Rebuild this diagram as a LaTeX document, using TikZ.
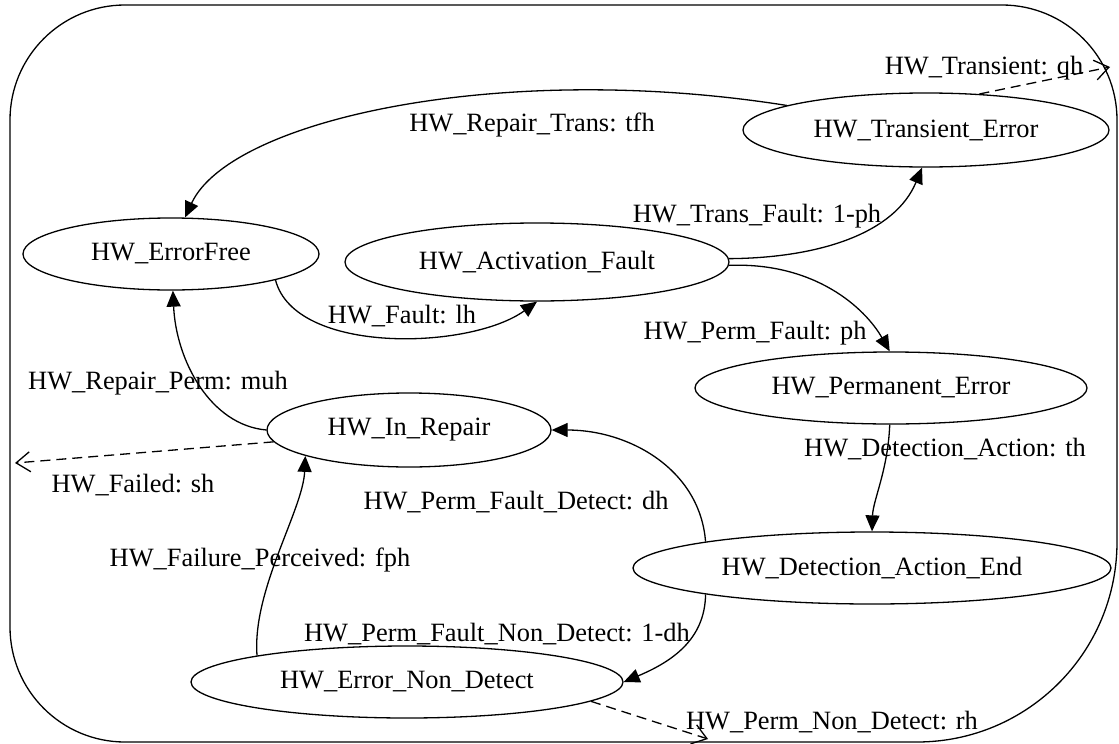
\documentclass[tikz,border=0pt]{standalone}
\usepackage{fontspec}
\setmainfont{Liberation Serif}
\usetikzlibrary{shapes.geometric,arrows.meta}
\newcommand\lblfont{\fontsize{26.4pt}{30pt}\selectfont}
\begin{document}
\begin{tikzpicture}[x=1pt,y=-1pt,line width=1.3pt,
  state/.style={draw,ellipse,inner sep=0pt,font=\lblfont},
  lbl/.style={font=\lblfont,inner sep=0pt,anchor=base},
  arr/.style={-{Triangle[length=16pt,width=14pt]}},
  openarr/.style={-{Straight Barb[length=14pt,width=20pt]},dash pattern=on 10pt off 6pt}]
\useasboundingbox (0,0) rectangle (1119,744);
\draw (10,120) .. controls (10,56.5) and (61.5,5) .. (125,5)
  -- (1002,5) .. controls (1065.5,5) and (1117,56.5) .. (1117,120)
  -- (1117,542) .. controls (1117,652.5) and (1027.5,742) .. (917,742)
  -- (125,742) .. controls (61.5,742) and (10,690.5) .. (10,627) -- cycle;
% states
\node[state,minimum width=296pt,minimum height=72pt] (ef) at (171,254) {HW\_ErrorFree};
\node[state,minimum width=384pt,minimum height=78pt] (af) at (537,262) {HW\_Activation\_Fault};
\node[state,minimum width=366pt,minimum height=74pt] (te) at (926,130) {HW\_Transient\_Error};
\node[state,minimum width=392pt,minimum height=72pt] (pe) at (891,388) {HW\_Permanent\_Error};
\node[state,minimum width=284pt,minimum height=74pt] (ir) at (409,430) {HW\_In\_Repair};
\node[state,minimum width=478pt,minimum height=72pt] (dae) at (872,568) {HW\_Detection\_Action\_End};
\node[state,minimum width=432pt,minimum height=72pt] (end) at (407,682) {HW\_Error\_Non\_Detect};
% free ends
\coordinate (fail) at (15,463);
\coordinate (trans) at (1110,67);
\coordinate (pnd) at (708,739);
% edges
\draw[arr] (te.170) .. controls (500,60) and (230,120) .. (ef.69);
\draw[arr] (af.1) .. controls (820,258) and (895,233) .. (te.-96);
\draw[arr] (af.-1) .. controls (815,262) and (865,308) .. (pe.92);
\draw[arr] (ef.-14) .. controls (295,355) and (470,350) .. (af.-90);
\draw[arr] (ir.180) .. controls (210,425) and (176,360) .. (ef.-87);
\draw[openarr] (ir.185) -- (fail);
\draw[arr] (dae.171) .. controls (700,470) and (630,430) .. (ir.0);
\draw[arr] (pe.-92) .. controls (888,470) and (873,500) .. (dae.90);
\draw[arr] (dae.189) .. controls (705,640) and (671,662) .. (end.0);
\draw[arr] (end.170) .. controls (252,590) and (303,510) .. (ir.194);
\draw[openarr] (end.-6) -- (pnd);
\draw[openarr] (te.34) -- (trans);
% labels
\node[lbl] (l1) at (532,131) {HW\_Repair\_Trans: tfh};
\node[lbl] (l2) at (757,222) {HW\_Trans\_Fault: 1-ph};
\node[lbl] (l3) at (755,339) {HW\_Perm\_Fault: ph};
\node[lbl] (l4) at (402,323) {HW\_Fault: lh};
\node[lbl] (l5) at (158,389) {HW\_Repair\_Perm: muh};
\node[lbl] (l6) at (133,492) {HW\_Failed: sh};
\node[lbl] (l7) at (516,509) {HW\_Perm\_Fault\_Detect: dh};
\node[lbl] (l8) at (945,456) {HW\_Detection\_Action: th};
\node[lbl] (l9) at (497,641) {HW\_Perm\_Fault\_Non\_Detect: 1-dh};
\node[lbl] (l10) at (260,566) {HW\_Failure\_Perceived: fph};
\node[lbl] (l11) at (832,729) {HW\_Perm\_Non\_Detect: rh};
\node[lbl] (l12) at (984,74) {HW\_Transient: qh};
\end{tikzpicture}
\end{document}
